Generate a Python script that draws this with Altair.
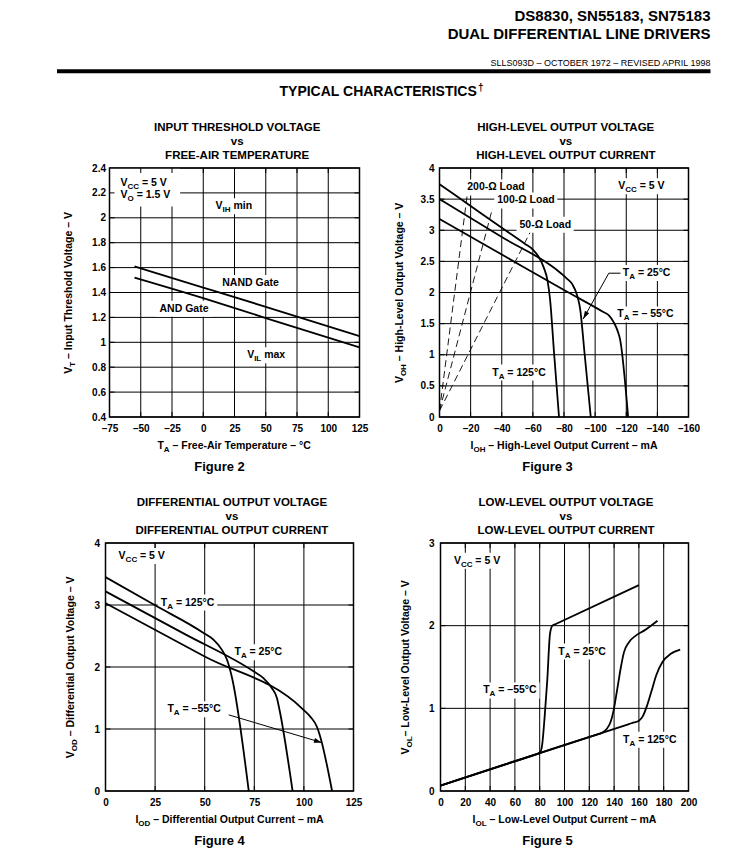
import math
import altair as alt
import pandas as pd

FONT = "Liberation Sans, Arial, Helvetica, sans-serif"

# ---------------- header text ----------------
HEAD_1 = "DS8830, SN55183, SN75183"
HEAD_2 = "DUAL DIFFERENTIAL LINE DRIVERS"
HEAD_3 = "SLLS093D – OCTOBER 1972 – REVISED APRIL 1998"
HEAD_4 = "TYPICAL CHARACTERISTICS"

# ---------------- Figure 2 ----------------
F2_TITLE = ["INPUT THRESHOLD VOLTAGE", "vs", "FREE-AIR TEMPERATURE"]
F2_XTITLE = [("T", False), ("A", True), (" – Free-Air Temperature – °C", False)]
F2_YTITLE = [("V", False), ("T", True), (" – Input Threshold Voltage – V", False)]
F2_XTICKS = [-75, -50, -25, 0, 25, 50, 75, 100, 125]
F2_YTICKS = [0.4, 0.6, 0.8, 1.0, 1.2, 1.4, 1.6, 1.8, 2.0, 2.2, 2.4]
F2_T = [-55, 0, 50, 125]
F2_NAND = [1.61, 1.44, 1.285, 1.05]
F2_AND = [1.52, 1.355, 1.195, 0.96]
F2_LABELS = [
    (-66.2, 2.252, [("V", False), ("CC", True), (" = 5 V", False)]),
    (-66.2, 2.157, [("V", False), ("O", True), (" = 1.5 V", False)]),
    (9.8, 2.068, [("V", False), ("IH", True), (" min", False)]),
    (15.2, 1.452, [("NAND Gate", False)]),
    (-35.0, 1.246, [("AND Gate", False)]),
    (35.1, 0.871, [("V", False), ("IL", True), (" max", False)]),
]

# ---------------- Figure 3 ----------------
F3_TITLE = ["HIGH-LEVEL OUTPUT VOLTAGE", "vs", "HIGH-LEVEL OUTPUT CURRENT"]
F3_XTITLE = [("I", False), ("OH", True), (" – High-Level Output Current – mA", False)]
F3_YTITLE = [("V", False), ("OH", True), (" – High-Level Output Voltage – V", False)]
F3_XTICKS = [0, -20, -40, -60, -80, -100, -120, -140, -160]
F3_YTICKS = [0, 0.5, 1, 1.5, 2, 2.5, 3, 3.5, 4]
F3_I_125 = [0, -20, -40, -55, -60, -64, -67, -69.5, -71, -73.7, -76.8]
F3_V_125 = [3.74, 3.39, 3.04, 2.78, 2.69, 2.56, 2.40, 2.18, 1.90, 1.0, 0]
F3_I_25 = [0, -40, -78, -82, -85.4, -88.6, -90.3, -93.3, -97.2]
F3_V_25 = [3.5, 2.89, 2.31, 2.22, 2.13, 1.94, 1.75, 1.0, 0]
F3_I_M55 = [0, -40, -80, -105, -109, -112, -114.5, -116, -121.2]
F3_V_M55 = [3.18, 2.61, 2.04, 1.69, 1.63, 1.52, 1.38, 1.25, 0]
F3_LOAD_NAME = ["200", "100", "50"]
F3_LOAD_I = [-17.8, -34, -58.5]
F3_LOAD_V = [3.57, 3.35, 2.98]
F3_LOAD_V0 = 0.1
F3_ARROW_I = [-116.3, -108.8, -92.3]
F3_ARROW_V = [2.31, 2.31, 1.574]
F3_LABELS = [
    (-17.8, 3.64, [("200-Ω Load", False)]),
    (-37.1, 3.43, [("100-Ω Load", False)]),
    (-51.4, 3.04, [("50-Ω Load", False)]),
    (-114.8, 3.66, [("V", False), ("CC", True), (" = 5 V", False)]),
    (-117.8, 2.265, [("T", False), ("A", True), (" = 25°C", False)]),
    (-114.2, 1.60, [("T", False), ("A", True), (" = – 55°C", False)]),
    (-33.9, 0.665, [("T", False), ("A", True), (" = 125°C", False)]),
]

# ---------------- Figure 4 ----------------
F4_TITLE = ["DIFFERENTIAL OUTPUT VOLTAGE", "vs", "DIFFERENTIAL OUTPUT CURRENT"]
F4_XTITLE = [("I", False), ("OD", True), (" – Differential Output Current – mA", False)]
F4_YTITLE = [("V", False), ("OD", True), (" – Differential Output Voltage – V", False)]
F4_XTICKS = [0, 25, 50, 75, 100, 125]
F4_YTICKS = [0, 1, 2, 3, 4]
F4_I_125 = [0, 25, 49.4, 54.4, 58.6, 61.2, 63.6, 72.2]
F4_V_125 = [3.45, 2.995, 2.55, 2.44, 2.28, 2.12, 1.85, 0]
F4_I_25 = [0, 40, 74.6, 79.6, 83.8, 86.4, 87.7, 94.3]
F4_V_25 = [3.22, 2.53, 1.93, 1.82, 1.66, 1.50, 1.31, 0]
F4_I_M55 = [0, 50, 99.8, 103.2, 106.5, 108.2, 114.2]
F4_V_M55 = [3.03, 2.17, 1.31, 1.20, 1.04, 0.88, 0]
F4_ARROW_I = [62.1, 109.1]
F4_ARROW_V = [1.228, 0.78]
F4_LABELS = [
    (6.6, 3.74, [("V", False), ("CC", True), (" = 5 V", False)]),
    (27.9, 2.99, [("T", False), ("A", True), (" = 125°C", False)]),
    (65.0, 2.19, [("T", False), ("A", True), (" = 25°C", False)]),
    (31.2, 1.27, [("T", False), ("A", True), (" = –55°C", False)]),
]

# ---------------- Figure 5 ----------------
F5_TITLE = ["LOW-LEVEL OUTPUT VOLTAGE", "vs", "LOW-LEVEL OUTPUT CURRENT"]
F5_XTITLE = [("I", False), ("OL", True), (" – Low-Level Output Current – mA", False)]
F5_YTITLE = [("V", False), ("OL", True), ("– Low-Level Output Voltage – V", False)]
F5_XTICKS = [0, 20, 40, 60, 80, 100, 120, 140, 160, 180, 200]
F5_YTICKS = [0, 1, 2, 3]
F5_I_M55 = [0, 75, 78, 80.5, 82, 84, 86.1, 88.3, 90.2, 93, 160]
F5_V_M55 = [0.065, 0.432, 0.447, 0.47, 0.56, 0.9, 1.34, 1.9, 2.0, 2.02, 2.49]
F5_I_25 = [0, 126, 130, 134, 137.3, 139.4, 141.3, 143.5, 145.5, 148, 152, 157.5, 164.2, 175]
F5_V_25 = [0.065, 0.683, 0.702, 0.75, 0.84, 0.96, 1.12, 1.32, 1.5, 1.68, 1.80, 1.88, 1.94, 2.06]
F5_I_125 = [0, 152, 156, 160, 163, 166.5, 170, 174, 179, 185.7, 193.3]
F5_V_125 = [0.065, 0.81, 0.829, 0.85, 0.9, 1.03, 1.2, 1.4, 1.56, 1.66, 1.71]
F5_LABELS = [
    (10.8, 2.75, [("V", False), ("CC", True), (" = 5 V", False)]),
    (95.0, 1.65, [("T", False), ("A", True), (" = 25°C", False)]),
    (34.4, 1.18, [("T", False), ("A", True), (" = –55°C", False)]),
    (147.2, 0.585, [("T", False), ("A", True), (" = 125°C", False)]),
]

# ---------------- helpers ----------------
AB = {' ': 278, ',': 278, '-': 333, '.': 278, '=': 584, '°': 400, '–': 556, 'Ω': 768, '†': 556,
      'A': 722, 'B': 722, 'C': 722, 'D': 722, 'E': 667, 'F': 611, 'G': 778, 'H': 722, 'I': 278,
      'J': 556, 'K': 722, 'L': 611, 'M': 833, 'N': 722, 'O': 778, 'P': 667, 'Q': 778, 'R': 722,
      'S': 667, 'T': 611, 'U': 722, 'V': 667, 'W': 944, 'X': 667, 'Y': 667, 'Z': 611,
      'a': 556, 'b': 611, 'c': 556, 'd': 611, 'e': 556, 'f': 333, 'g': 611, 'h': 611, 'i': 278,
      'j': 278, 'k': 556, 'l': 278, 'm': 889, 'n': 611, 'o': 611, 'p': 611, 'q': 611, 'r': 389,
      's': 556, 't': 333, 'u': 611, 'v': 556, 'w': 778, 'x': 556, 'y': 556, 'z': 500}
for _d in "0123456789":
    AB[_d] = 556

MAIN, SUB, SUBDY = 10.5, 8, 3
DUMMY = pd.DataFrame({"k": [0]})
LABEL_EXPR = "datum.value < 0 ? '–' + format(-datum.value, '~g') : format(datum.value, '~g')"
ARROW_SHAPE = "M0,-1L-0.6,1L0.6,1Z"


def tw(s, size):
    return sum(AB.get(c, 600) for c in s) * size / 1000.0


def seg_layout(segs, main=MAIN, sub=SUB):
    out, off = [], 0.0
    for text, is_sub in segs:
        size = sub if is_sub else main
        stripped = text.lstrip(" ")
        off += tw(text[: len(text) - len(stripped)], size)
        out.append((stripped, off, is_sub))
        off += tw(stripped, size)
    return out, off


def ptext(text, x, y, size, angle=0, align="left", weight="bold", font=FONT):
    kw = dict(align=align, baseline="alphabetic", fontSize=size, fontWeight=weight,
              font=font, color="black")
    if angle:
        kw["angle"] = angle
    return alt.Chart(DUMMY).mark_text(**kw).encode(
        x=alt.value(x), y=alt.value(y), text=alt.value(text))


def htitle(segs, cx, y):
    lay, tot = seg_layout(segs)
    x0 = cx - tot / 2
    return [ptext(t, x0 + o, y + (SUBDY if s else 0), SUB if s else MAIN) for t, o, s in lay]


def vtitle(segs, x, cy):
    lay, tot = seg_layout(segs)
    y0 = cy + tot / 2
    return [ptext(t, x + (SUBDY if s else 0), y0 - o, SUB if s else MAIN, angle=270)
            for t, o, s in lay]


def panel(p):
    W, H = p["W"], p["H"]
    xo = p.get("xoff", 0)
    xd, yd = p["xdom"], p["ydom"]
    fx = W / (xd[1] - xd[0])
    fy = H / (yd[1] - yd[0])
    xs = alt.Scale(domain=xd, range=[xo, W + xo], nice=False, zero=False)
    ys = alt.Scale(domain=yd, nice=False, zero=False)
    common = dict(grid=False, ticks=False, domain=False, labelFont=FONT, labelFontSize=10,
                  labelFontWeight="bold", labelColor="black", labelOverlap=False,
                  labelFlush=False, labelBound=False, title=None, labelExpr=LABEL_EXPR)
    xax = alt.Axis(values=p["xticks"], labelPadding=p["xlabpad"], **common)
    yax = alt.Axis(values=p["yticks"], labelPadding=p["ylabpad"] - xo, **common)

    def X(f):
        return alt.X(f, type="quantitative", scale=xs, axis=xax)

    def Y(f):
        return alt.Y(f, type="quantitative", scale=ys, axis=yax)

    L, R, T, B = p["bounds"]
    layers = [
        alt.Chart(DUMMY).mark_rule(color="white", strokeWidth=1).encode(
            x=alt.value(xo + L), x2=alt.value(xo + W + R), y=alt.value(T)),
    ]
    if B is not None:
        layers.append(alt.Chart(DUMMY).mark_rule(color="white", strokeWidth=1).encode(
            x=alt.value(xo + L), x2=alt.value(xo + W + R), y=alt.value(H + B)))

    gx = pd.DataFrame({"v": p["xticks"]})
    gy = pd.DataFrame({"v": p["yticks"]})
    layers.append(alt.Chart(gx).mark_rule(color="black", strokeWidth=1).encode(
        x=X("v"), y=alt.value(0), y2=alt.value(H)))
    layers.append(alt.Chart(gy).mark_rule(color="black", strokeWidth=1).encode(
        y=Y("v"), x=alt.value(xo), x2=alt.value(xo + W)))

    if p.get("loads"):
        rows = []
        for name, i1, v1 in p["loads"]:
            rows.append({"s": name, "x": 0, "y": F3_LOAD_V0})
            rows.append({"s": name, "x": i1, "y": v1})
        layers.append(alt.Chart(pd.DataFrame(rows)).mark_line(
            color="black", strokeWidth=0.9, strokeDash=[7, 4]).encode(
            x=X("x"), y=Y("y"), detail="s:N"))

    mains, subs, boxes = [], [], list(p.get("extra_boxes", []))
    for (x, y, segs) in p["labels"]:
        lay, tot = seg_layout(segs)
        for t, o, s in lay:
            (subs if s else mains).append({"x": x + o / fx, "y": y, "t": t})
        boxes.append({"x": x - 3 / fx, "x2": x + (tot + 3) / fx,
                      "y": y - 5 / fy, "y2": y + 11 / fy})
    layers.append(alt.Chart(pd.DataFrame(boxes)).mark_rect(color="white").encode(
        x=X("x"), x2="x2", y=Y("y"), y2="y2"))

    xt = pd.DataFrame({"v": p["xticks"][1:-1]})
    yt = pd.DataFrame({"v": p["yticks"][1:-1]})
    tk = dict(color="black", strokeWidth=1)
    layers += [
        alt.Chart(xt).mark_rule(**tk).encode(x=X("v"), y=alt.value(H), y2=alt.value(H - 5)),
        alt.Chart(xt).mark_rule(**tk).encode(x=X("v"), y=alt.value(0), y2=alt.value(5)),
        alt.Chart(yt).mark_rule(**tk).encode(y=Y("v"), x=alt.value(xo), x2=alt.value(xo + 5)),
        alt.Chart(yt).mark_rule(**tk).encode(y=Y("v"), x=alt.value(xo + W - 5), x2=alt.value(xo + W)),
    ]

    crow = []
    for name, xsr, ysr in p["curves"]:
        for a, b in zip(xsr, ysr):
            crow.append({"s": name, "x": a, "y": b})
    layers.append(alt.Chart(pd.DataFrame(crow)).mark_line(
        color="black", strokeWidth=1.8, interpolate="monotone").encode(
        x=X("x"), y=Y("y"), detail="s:N"))

    for (ax_, ay_) in p.get("arrows", []):
        adf = pd.DataFrame({"x": ax_, "y": ay_, "o": list(range(len(ax_)))})
        layers.append(alt.Chart(adf).mark_line(color="black", strokeWidth=1).encode(
            x=X("x"), y=Y("y"), order="o:Q"))
        sx = (ax_[-1] - ax_[-2]) * fx
        sy = -(ay_[-1] - ay_[-2]) * fy
        ln = math.hypot(sx, sy)
        ux, uy = sx / ln, sy / ln
        back = 4.0
        hx = ax_[-1] - ux * back / fx
        hy = ay_[-1] + uy * back / fy
        ang = math.degrees(math.atan2(ux, -uy)) % 360
        hdf = pd.DataFrame({"x": [hx], "y": [hy], "a": [ang]})
        layers.append(alt.Chart(hdf).mark_point(
            shape=ARROW_SHAPE, filled=True, color="black", size=64, opacity=1).encode(
            x=X("x"), y=Y("y"), angle=alt.Angle("a:Q", scale=None)))

    tstyle = dict(align="left", baseline="alphabetic", font=FONT, fontWeight="bold", color="black")
    layers.append(alt.Chart(pd.DataFrame(mains)).mark_text(fontSize=MAIN, **tstyle).encode(
        x=X("x"), y=Y("y"), text="t:N"))
    layers.append(alt.Chart(pd.DataFrame(subs)).mark_text(fontSize=SUB, dy=SUBDY, **tstyle).encode(
        x=X("x"), y=Y("y"), text="t:N"))

    frame = pd.DataFrame({"x": [xd[0]], "x2": [xd[1]], "y": [yd[0]], "y2": [yd[1]]})
    layers.append(alt.Chart(frame).mark_rect(fillOpacity=0, stroke="black", strokeWidth=1.5).encode(
        x=X("x"), x2="x2", y=Y("y"), y2="y2"))

    for line, yy in zip(p["title"], [-37, -23, -9]):
        layers.append(ptext(line, xo + p["tcx"], yy, 11.5, align="center"))
    layers += htitle(p["xtitle"], xo + W / 2, H + 32)
    layers += vtitle(p["ytitle"], xo + p["ytx"], H / 2)
    layers.append(ptext(p["fig"], xo + p["fcx"], H + 53.5, 13, align="center"))

    return alt.layer(*layers).properties(width=W, height=H)


P2 = panel(dict(W=250, H=249, xdom=[-75, 125], ydom=[0.4, 2.4], xticks=F2_XTICKS, yticks=F2_YTICKS,
                curves=[("NAND", F2_T, F2_NAND), ("AND", F2_T, F2_AND)], labels=F2_LABELS,
                extra_boxes=[{"x": -75, "x2": -18.5, "y": 2.09, "y2": 2.4}],
                title=F2_TITLE, tcx=127.7, xtitle=F2_XTITLE, ytitle=F2_YTITLE, ytx=-37.5,
                fig="Figure 2", fcx=110, xlabpad=6, ylabpad=4,
                bounds=(-54, 16.5, -55.5, 59.5)))
P3 = panel(dict(W=249, H=249, xdom=[0, -160], ydom=[0, 4], xticks=F3_XTICKS, yticks=F3_YTICKS,
                curves=[("125", F3_I_125, F3_V_125), ("25", F3_I_25, F3_V_25),
                        ("m55", F3_I_M55, F3_V_M55)],
                loads=list(zip(F3_LOAD_NAME, F3_LOAD_I, F3_LOAD_V)),
                arrows=[(F3_ARROW_I, F3_ARROW_V)], labels=F3_LABELS,
                title=F3_TITLE, tcx=126.3, xtitle=F3_XTITLE, ytitle=F3_YTITLE, ytx=-36.5,
                fig="Figure 3", fcx=108, xlabpad=6, ylabpad=5.5,
                bounds=(-59.5, 14, -55.5, 59.5)))
P4 = panel(dict(W=248, H=248, xoff=-4, xdom=[0, 125], ydom=[0, 4], xticks=F4_XTICKS, yticks=F4_YTICKS,
                curves=[("125", F4_I_125, F4_V_125), ("25", F4_I_25, F4_V_25),
                        ("m55", F4_I_M55, F4_V_M55)],
                arrows=[(F4_ARROW_I, F4_ARROW_V)], labels=F4_LABELS,
                title=F4_TITLE, tcx=126.4, xtitle=F4_XTITLE, ytitle=F4_YTITLE, ytx=-31.3,
                fig="Figure 4", fcx=114, xlabpad=6, ylabpad=6,
                bounds=(-45, 16.5, -55.5, None)))
P5 = panel(dict(W=248, H=248, xdom=[0, 200], ydom=[0, 3], xticks=F5_XTICKS, yticks=F5_YTICKS,
                curves=[("m55", F5_I_M55, F5_V_M55), ("25", F5_I_25, F5_V_25),
                        ("125", F5_I_125, F5_V_125)],
                labels=F5_LABELS,
                title=F5_TITLE, tcx=125.5, xtitle=F5_XTITLE, ytitle=F5_YTITLE, ytx=-32,
                fig="Figure 5", fcx=107, xlabpad=6, ylabpad=6.5,
                bounds=(-60.5, 14, -55.5, None)))

# header: its origin coincides with the left edge of the Figure 2 plot
HW = 601
header = alt.layer(
    ptext(HEAD_1, HW, 13.2, 15, align="right"),
    ptext(HEAD_2, HW, 31.2, 15, align="right"),
    ptext(HEAD_3, HW, 57.7, 9, align="right", weight="normal"),
    alt.Chart(DUMMY).mark_rule(color="black", strokeWidth=4).encode(
        x=alt.value(-52.5), x2=alt.value(HW), y=alt.value(63.3)),
    ptext(HEAD_4, 170, 88, 14),
    ptext("†", 170 + tw(HEAD_4, 14) + 1, 83, 10),
).properties(width=HW, height=94)

row1 = alt.hconcat(P2, P3, spacing=3)
row2 = alt.hconcat(P4, P5, spacing=9)

chart = alt.vconcat(header, row1, row2, spacing=10).properties(
    padding={"left": 46.5, "top": 0, "right": 0, "bottom": 0},
    background="white",
).configure_view(strokeWidth=0)

chart.save("out.html", embed_options={"renderer": "svg", "actions": False})
